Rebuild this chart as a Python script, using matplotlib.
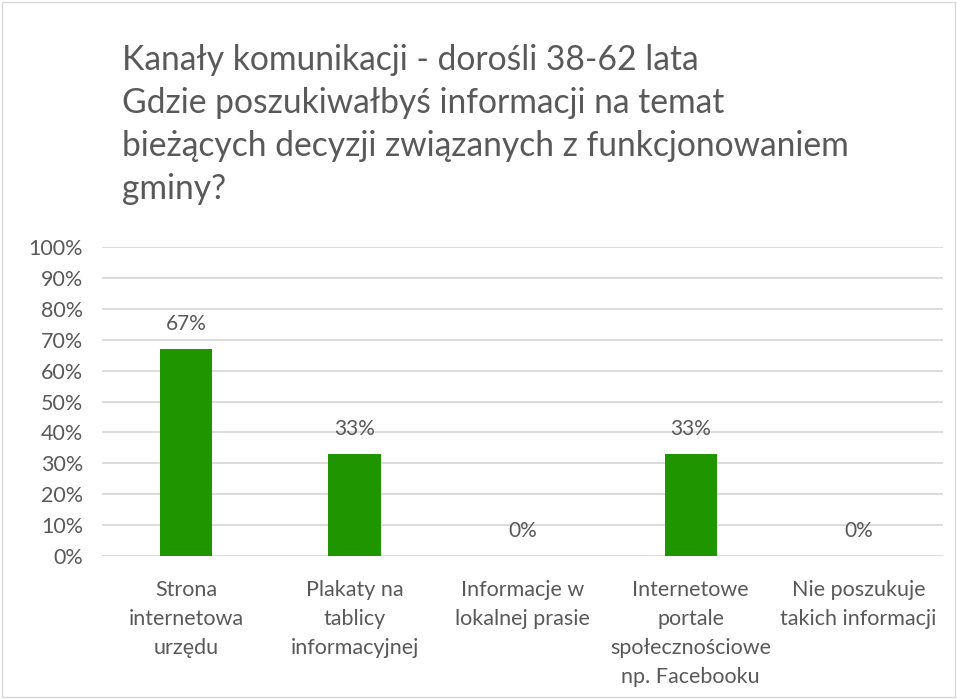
import matplotlib.pyplot as plt
from matplotlib.patches import Rectangle

plt.rcParams['font.family'] = ['Lato', 'DejaVu Sans']

categories = ["Strona\ninternetowa\nurzędu",
              "Plakaty na\ntablicy\ninformacyjnej",
              "Informacje w\nlokalnej prasie",
              "Internetowe\nportale\nspołecznościowe\nnp. Facebooku",
              "Nie poszukuje\ntakich informacji"]
values = [0.67, 0.33, 0.0, 0.33, 0.0]
labels = ["67%", "33%", "0%", "33%", "0%"]
yticks = [i / 10 for i in range(11)]

title = ("Kanały komunikacji - dorośli 38-62 lata\n"
         "Gdzie poszukiwałbyś informacji na temat\n"
         "bieżących decyzji związanych z funkcjonowaniem\n"
         "gminy?")

gray = "#595959"
fig = plt.figure(figsize=(9.57, 6.99), dpi=100)
ax = fig.add_axes([0.107, 0.2046, 0.878, 0.442])

x = range(len(categories))
ax.bar(x, values, width=0.31, color="#1f9600", zorder=3)
for i, (v, t) in enumerate(zip(values, labels)):
    ax.text(i, v + 0.08, t, ha="center", va="center", color=gray, fontsize=15)

ax.set_xlim(-0.5, len(categories) - 0.5)
ax.set_ylim(0, 1)
ax.set_yticks(yticks)
ax.set_yticklabels([f"{int(round(t * 100))}%" for t in yticks], color=gray, fontsize=15.5)
ax.set_xticks(list(x))
ax.set_xticklabels(categories, color=gray, fontsize=15.5, linespacing=1.58)
ax.tick_params(axis="y", length=0, pad=14)
ax.tick_params(axis="x", length=0, pad=17)
ax.yaxis.grid(True, color="#d9d9d9", linewidth=1.3, zorder=0)
for s in ax.spines.values():
    s.set_visible(False)

fig.text(122 / 957, 1 - 44 / 699, title, ha="left", va="top", color=gray,
         fontsize=24.2, linespacing=1.42)

fig.patches.append(Rectangle((2 / 957, 2 / 699), 953 / 957, 695 / 699, transform=fig.transFigure,
                             fill=False, edgecolor="#d9d9d9", linewidth=1))

fig.savefig("out.png", dpi=100)
